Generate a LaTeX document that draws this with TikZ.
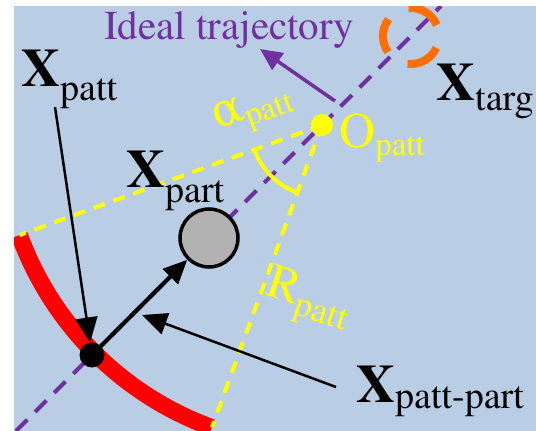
\documentclass[tikz,border=0pt]{standalone}
\usepackage[T1]{fontenc}
\usepackage{fontspec}
\newfontfamily\greekfont{DejaVu Serif}
\newcommand{\tms}{\fontencoding{T1}\fontfamily{ptm}\selectfont}
\usetikzlibrary{arrows.meta, positioning}
\definecolor{mybg}{RGB}{185,205,229}
\definecolor{mypurple}{RGB}{112,48,160}
\definecolor{myyellow}{RGB}{255,255,0}
\definecolor{myred}{RGB}{255,0,0}
\definecolor{myorange}{RGB}{255,110,0}
\definecolor{mygray}{RGB}{178,178,178}
\newcommand{\mainsz}{\tms\fontsize{54}{54}\selectfont}
\newcommand{\subsz}{\tms\mdseries\fontsize{38}{38}\selectfont}
\newcommand{\lowsub}[2][12pt]{\lower#1\hbox{\subsz #2}}
\tikzset{
  lbl/.style={anchor=base west, inner sep=0pt, font=\mainsz},
  trajline/.style={mypurple, line width=4pt, dash pattern=on 16pt off 11pt},
  yline/.style={myyellow, line width=4pt, dash pattern=on 12pt off 9pt},
  thinarrow/.style={-{Triangle[length=25pt, width=22pt]}, line width=2.5pt, black},
  thickarrow/.style={-{Triangle[length=24pt, width=21pt]}, line width=4pt, black},
  purparrow/.style={-{Triangle[length=22pt, width=20pt]}, line width=3.5pt, mypurple}
}

\begin{document}
\begin{tikzpicture}[x=1pt, y=1pt]
  \useasboundingbox (0,0) rectangle (536,-431);
  \fill[mybg] (14,-6) rectangle (536,-431);

  % Coordinates
  \coordinate (O) at (322,-125);
  \coordinate (targ) at (411,-36);
  \coordinate (trajlow) at (16,-431);
  \coordinate (trajtop) at (441,-6);
  \coordinate (arctop) at ([shift={(200:322)}]O);
  \coordinate (arclow) at ([shift={(250:322)}]O);

  \begin{scope}
    \clip (14,-6) rectangle (536,-431);
    % Pattern arc
    \draw[myred, line width=17pt] (arctop) arc[start angle=200, end angle=250, radius=322];
    % Ideal trajectory
    \draw[trajline] (trajlow) -- (trajtop);
    % Radii and angle
    \draw[yline] (O) -- (arctop);
    \draw[yline] (O) -- (arclow);
    \draw[myyellow, line width=4pt] ([shift={(200:72)}]O) arc[start angle=200, end angle=250, radius=72];
    % Target
    \foreach \a in {23,143,263}
      \draw[myorange, line width=8pt] ([shift={(\a:28)}]targ) arc[start angle=\a, delta angle=72, radius=28];
  \end{scope}

  % Particle, pattern point, origin
  \node[circle, draw, fill=mygray, line width=3.5pt, minimum size=58pt, inner sep=0pt] (part) at (209,-238) {};
  \node[circle, fill=black, minimum size=25pt, inner sep=0pt] (pattdot) at (92,-355) {};
  \node[circle, fill=myyellow, minimum size=22pt, inner sep=0pt] (odot) at (O) {};

  % Labels
  \node[lbl, font=\tms\fontsize{41}{41}\selectfont, text=mypurple] (ideal) at (104,-39) {Ideal trajectory};
  \node[lbl] (xpatt) at (21,-86) {\textbf{X}\lowsub[14pt]{patt}};
  \node[lbl] (xtarg) at (436,-100) {\textbf{X}\lowsub[10pt]{targ}};
  \node[lbl] (xpart) at (126,-187) {\textbf{X}\lowsub[15pt]{part}};
  \node[lbl] (xpp) at (356,-402) {\textbf{X}\lowsub[6pt]{patt-part}};
  \node[lbl, text=myyellow, font=\tms\fontsize{50}{50}\selectfont] (opatt) at (339,-147) {O\lower8pt\hbox{\fontsize{33}{33}\selectfont patt}};
  \node[lbl, text=myyellow, rotate=20, font=\tms\fontsize{46}{46}\selectfont] (alpha) at (217,-130) {{\greekfont α}\lower8pt\hbox{\fontsize{33}{33}\selectfont patt}};
  \node[lbl, text=myyellow, rotate=-18, font=\tms\fontsize{49}{49}\selectfont] (rpatt) at (264,-294) {R\lower10pt\hbox{\fontsize{36}{36}\selectfont patt}};

  % Arrows
  \coordinate (xpatttail) at (55,-107);
  \coordinate (xpptail) at (336,-387);
  \coordinate (xpptip) at (142,-315);
  \coordinate (idealtail) at (335,-101);
  \coordinate (idealtip) at (260,-49);
  \draw[purparrow] (idealtail) -- (idealtip);
  \draw[thinarrow] (xpatttail) -- (pattdot);
  \draw[thinarrow] (xpptail) -- (xpptip);
  \draw[thickarrow] (pattdot) -- (part);
\end{tikzpicture}
\end{document}
